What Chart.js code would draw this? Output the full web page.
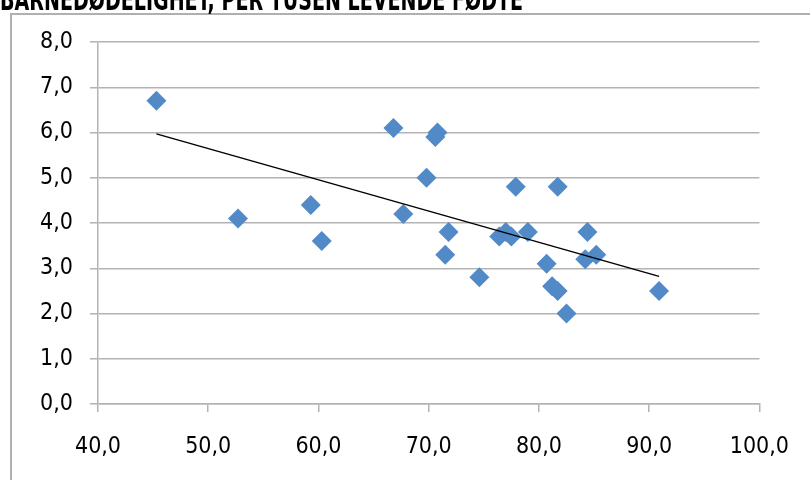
<!DOCTYPE html>
<html><head><meta charset="utf-8">
<script src="https://cdn.jsdelivr.net/npm/chart.js@4"></script>
<style>
html,body{margin:0;padding:0;background:#fff;overflow:hidden}
#wrap{position:relative;width:810px;height:480px}
#title{position:absolute;left:0;top:-15px;font-family:"DejaVu Sans Condensed","DejaVu Sans",sans-serif;font-weight:bold;font-size:30px;white-space:nowrap;transform-origin:0 0;color:#000;line-height:1}
</style></head><body>
<div id="wrap"><canvas id="c" width="810" height="480"></canvas><div id="title">BARNEDØDELIGHET, PER TUSEN LEVENDE FØDTE</div></div>
<script>
const xValues = [45.3, 52.7, 59.3, 60.3, 66.8, 67.7, 69.8, 70.6, 70.8, 71.8, 71.5, 74.6, 76.4, 77.0, 77.5, 77.9, 79.0, 80.7, 81.7, 81.2, 81.7, 82.5, 84.2, 84.4, 85.2, 90.9];
const yValues = [6.7, 4.1, 4.4, 3.6, 6.1, 4.2, 5.0, 5.9, 6.0, 3.8, 3.3, 2.8, 3.7, 3.8, 3.7, 4.8, 3.8, 3.1, 4.8, 2.6, 2.5, 2.0, 3.2, 3.8, 3.3, 2.5];
const trendX = [45.3, 90.9];
const trendY = [5.97, 2.82];
const xTicks = [40, 50, 60, 70, 80, 90, 100];
const yTicks = [0, 1, 2, 3, 4, 5, 6, 7, 8];

const t = document.getElementById('title');
const w = t.getBoundingClientRect().width;
t.style.transform = 'scaleX(' + (523 / w) + ')';

const fmt = v => Number(v).toFixed(1).replace('.', ',');
const gridCol = '#b3b3b3';

const framePlugin = {
  id: 'frame',
  beforeDraw(chart) {
    const ctx = chart.ctx;
    ctx.save();
    ctx.strokeStyle = '#b0b0b0';
    ctx.lineWidth = 2;
    ctx.beginPath();
    ctx.moveTo(11, 480);
    ctx.lineTo(11, 14);
    ctx.lineTo(810, 14);
    ctx.stroke();
    ctx.restore();
  }
};

const tickFont = {family: '"DejaVu Sans Condensed", "DejaVu Sans"', size: 23};

new Chart(document.getElementById('c'), {
  type: 'scatter',
  data: {
    datasets: [
      {
        data: xValues.map((x, i) => ({x: x, y: yValues[i]})),
        pointStyle: 'rectRot',
        pointRadius: 10,
        pointHoverRadius: 10,
        backgroundColor: '#5289c7',
        borderWidth: 0,
        order: 2
      },
      {
        type: 'line',
        data: trendX.map((x, i) => ({x: x, y: trendY[i]})),
        borderColor: '#000',
        borderWidth: 1.5,
        pointRadius: 0,
        fill: false,
        order: 1
      }
    ]
  },
  options: {
    responsive: false,
    animation: false,
    events: [],
    layout: {padding: {top: 42, right: 49, left: 0, bottom: 0}},
    plugins: {legend: {display: false}, tooltip: {enabled: false}},
    scales: {
      x: {
        type: 'linear', min: 40, max: 100,
        afterBuildTicks: s => { s.ticks = xTicks.map(v => ({value: v})); },
        afterFit: s => { s.height = 76; },
        grid: {drawOnChartArea: false, drawTicks: true, tickLength: 8, color: gridCol, lineWidth: 1.5},
        border: {color: gridCol, width: 1.5},
        ticks: {callback: fmt, color: '#000', padding: 21, maxRotation: 0, font: tickFont}
      },
      y: {
        type: 'linear', min: 0, max: 8,
        afterBuildTicks: s => { s.ticks = yTicks.map(v => ({value: v})); },
        afterFit: s => { s.width = 98; },
        grid: {drawTicks: true, tickLength: 8, color: gridCol, lineWidth: 1.5},
        border: {color: gridCol, width: 1.5},
        ticks: {callback: fmt, color: '#000', padding: 17, font: tickFont}
      }
    }
  },
  plugins: [framePlugin]
});
</script>
</body></html>
